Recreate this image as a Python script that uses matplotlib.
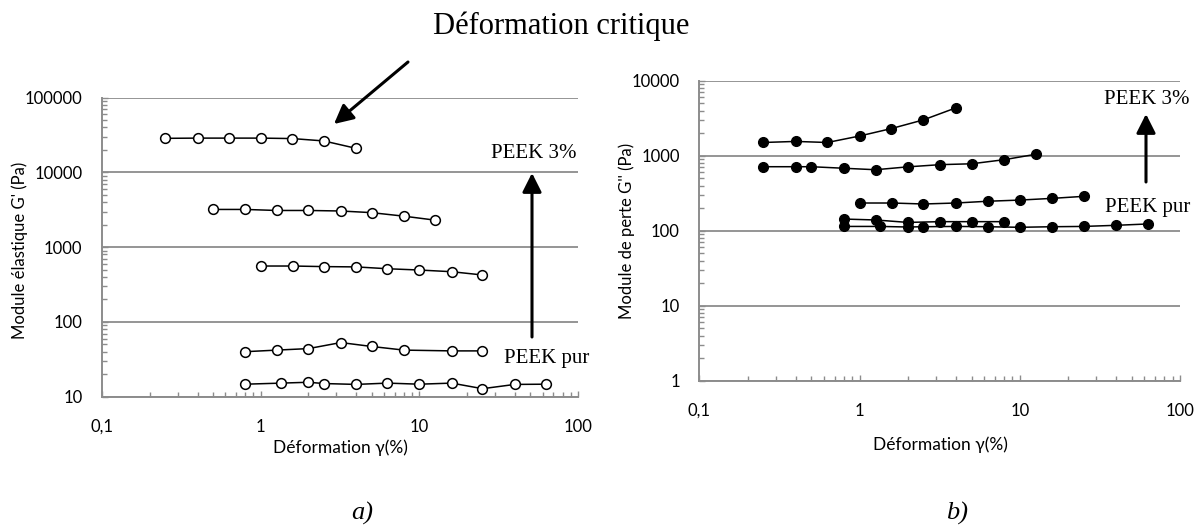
import matplotlib
matplotlib.use("Agg")
import matplotlib.pyplot as plt
from matplotlib.ticker import FixedLocator, FixedFormatter, LogLocator, NullFormatter
from matplotlib.patches import ArrowStyle, FancyArrowPatch

# Storage modulus G' (Pa) vs strain (%)
strain_a1 = [0.25, 0.4, 0.63, 1.0, 1.58, 2.5, 4.0]
gp_a1 = [28600, 28800, 28800, 28800, 28400, 26400, 21000]
strain_a2 = [0.5, 0.8, 1.26, 2.0, 3.2, 5.0, 8.0, 12.6]
gp_a2 = [3200, 3200, 3100, 3100, 3050, 2900, 2600, 2300]
strain_a3 = [1.0, 1.6, 2.5, 4.0, 6.3, 10, 16, 25]
gp_a3 = [560, 560, 550, 545, 515, 495, 470, 425]
strain_a4 = [0.8, 1.26, 2.0, 3.2, 5.0, 8.0, 16, 25]
gp_a4 = [40, 42, 44, 53, 47, 42, 41, 41]
strain_a5 = [0.8, 1.35, 2.0, 2.5, 4.0, 6.3, 10, 16, 25, 40, 63]
gp_a5 = [14.7, 15.2, 15.6, 15.0, 14.6, 15.2, 14.7, 15.2, 12.8, 14.6, 14.7]

# Loss modulus G'' (Pa) vs strain (%)
strain_b1 = [0.25, 0.4, 0.63, 1.0, 1.58, 2.5, 4.0]
gpp_b1 = [1500, 1550, 1500, 1830, 2300, 3000, 4350]
strain_b2 = [0.25, 0.4, 0.5, 0.8, 1.26, 2.0, 3.2, 5.0, 8.0, 12.6]
gpp_b2 = [713, 713, 713, 680, 650, 710, 760, 780, 885, 1045]
strain_b3 = [1.0, 1.6, 2.5, 4.0, 6.3, 10, 16, 25]
gpp_b3 = [234, 234, 227, 234, 247, 256, 270, 287]
strain_b4 = [0.8, 1.26, 2.0, 3.2, 5.0, 8.0]
gpp_b4 = [143, 139, 129, 132, 132, 132]
strain_b5 = [0.8, 1.35, 2.0, 2.5, 4.0, 6.3, 10, 16, 25, 40, 63]
gpp_b5 = [114, 114, 112, 113, 114, 113, 111, 113, 114, 118, 123]

x_ticks = [0.1, 1, 10, 100]
x_tick_labels = ["0,1", "1", "10", "100"]
ya_ticks = [10, 100, 1000, 10000, 100000]
ya_tick_labels = ["10", "100", "1000", "10000", "100000"]
yb_ticks = [1, 10, 100, 1000, 10000]
yb_tick_labels = ["1", "10", "100", "1000", "10000"]

SANS = ["Lato", "DejaVu Sans"]
SERIF = ["Liberation Serif", "DejaVu Serif"]
GREY = "#8c8c8c"

W, H = 1204, 531
fig = plt.figure(figsize=(W / 100, H / 100), dpi=100)


def px(x, y):
    return (x / W, 1 - y / H)


def style_axes(ax, yticks, ylabels, ylim):
    ax.set_xscale("log")
    ax.set_yscale("log")
    ax.set_xlim(0.1, 100)
    ax.set_ylim(*ylim)
    for s in ("top", "right"):
        ax.spines[s].set_visible(False)
    for s in ("left", "bottom"):
        ax.spines[s].set_color(GREY)
        ax.spines[s].set_linewidth(1.4)
    ax.xaxis.set_major_locator(FixedLocator(x_ticks))
    ax.xaxis.set_major_formatter(FixedFormatter(x_tick_labels))
    ax.yaxis.set_major_locator(FixedLocator(yticks))
    ax.yaxis.set_major_formatter(FixedFormatter(ylabels))
    ax.xaxis.set_minor_locator(LogLocator(base=10, subs=range(2, 10)))
    ax.yaxis.set_minor_locator(LogLocator(base=10, subs=range(2, 10)))
    ax.xaxis.set_minor_formatter(NullFormatter())
    ax.yaxis.set_minor_formatter(NullFormatter())
    ax.tick_params(which="both", direction="in", color=GREY, width=1.0)
    ax.tick_params(which="major", length=4.5)
    ax.tick_params(which="minor", length=3.5)
    ax.tick_params(axis="x", which="major", pad=16, labelsize=12)
    ax.tick_params(axis="y", which="major", pad=14, labelsize=12)
    for lab in ax.get_xticklabels() + ax.get_yticklabels():
        lab.set_family(SANS)
    ax.grid(True, which="major", axis="y", color=GREY, lw=1.3)
    ax.set_axisbelow(True)


# ---- a) storage modulus ----
ax1 = fig.add_axes([102 / W, 1 - 396.7 / H, 476 / W, 299 / H])
style_axes(ax1, ya_ticks, ya_tick_labels, (10, 100000))
for xs, ys in [(strain_a1, gp_a1), (strain_a2, gp_a2), (strain_a3, gp_a3),
               (strain_a4, gp_a4), (strain_a5, gp_a5)]:
    ax1.plot(xs, ys, color="black", lw=1.1, marker="o", ms=7,
             mfc="white", mec="black", mew=1.1, clip_on=False)
ax1.set_xlabel("Déformation γ(%)", family=SANS, fontsize=12.5, va="center")
ax1.xaxis.set_label_coords(0.501, -0.17)
ax1.set_ylabel("Module élastique G' (Pa)", family=SANS, fontsize=12, va="center")
ax1.yaxis.set_label_coords(-0.173, 0.49)

# ---- b) loss modulus ----
ax2 = fig.add_axes([699.3 / W, 1 - 380.7 / H, 480.7 / W, 300 / H])
style_axes(ax2, yb_ticks, yb_tick_labels, (1, 10000))
for xs, ys in [(strain_b1, gpp_b1), (strain_b2, gpp_b2), (strain_b3, gpp_b3),
               (strain_b4, gpp_b4), (strain_b5, gpp_b5)]:
    ax2.plot(xs, ys, color="black", lw=1.1, marker="o", ms=7,
             mfc="black", mec="black", clip_on=False)
ax2.set_xlabel("Déformation γ(%)", family=SANS, fontsize=12.5, va="center")
ax2.xaxis.set_label_coords(0.5007, -0.2127)
ax2.set_ylabel("Module de perte G'' (Pa)", family=SANS, fontsize=12, va="center")
ax2.yaxis.set_label_coords(-0.150, 0.50)


# ---- annotations ----
def arrow(tail, head):
    fig.add_artist(FancyArrowPatch(
        px(*tail), px(*head), transform=fig.transFigure,
        arrowstyle=ArrowStyle("-|>", head_length=1.15, head_width=0.58),
        mutation_scale=10, lw=2.2, color="black",
        shrinkA=0, shrinkB=0))


fig.text(*px(561, 26), "Déformation critique", family=SERIF, fontsize=22,
         ha="center", va="center")
arrow((408, 62), (334, 124))

fig.text(*px(534, 153), "PEEK 3%", family=SERIF, fontsize=15,
         ha="center", va="center")
arrow((532, 337), (532, 173))
fig.text(*px(547, 359), "PEEK pur", family=SERIF, fontsize=15,
         ha="center", va="center")

fig.text(*px(1147, 99), "PEEK 3%", family=SERIF, fontsize=15,
         ha="center", va="center")
arrow((1146, 182), (1146, 114))
fig.text(*px(1148, 207), "PEEK pur", family=SERIF, fontsize=15,
         ha="center", va="center")

fig.text(*px(362, 513), "a)", family=SERIF, fontsize=19, style="italic",
         ha="center", va="center")
fig.text(*px(957, 513), "b)", family=SERIF, fontsize=19, style="italic",
         ha="center", va="center")

fig.savefig("out.png", dpi=100)
